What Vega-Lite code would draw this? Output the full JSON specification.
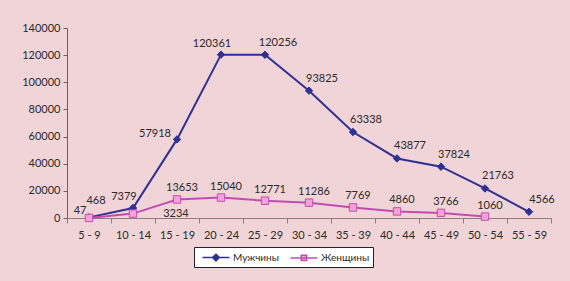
{
  "$schema": "https://vega.github.io/schema/vega-lite/v6.json",
  "width": 484,
  "height": 190,
  "autosize": "none",
  "padding": {"left": 67, "top": 28, "right": 19, "bottom": 63},
  "background": "#f1d4d7",
  "data": {
    "values": [
      {"age": "5 - 9", "sex": "Мужчины", "value": 468},
      {"age": "10 - 14", "sex": "Мужчины", "value": 7379},
      {"age": "15 - 19", "sex": "Мужчины", "value": 57918},
      {"age": "20 - 24", "sex": "Мужчины", "value": 120361},
      {"age": "25 - 29", "sex": "Мужчины", "value": 120256},
      {"age": "30 - 34", "sex": "Мужчины", "value": 93825},
      {"age": "35 - 39", "sex": "Мужчины", "value": 63338},
      {"age": "40 - 44", "sex": "Мужчины", "value": 43877},
      {"age": "45 - 49", "sex": "Мужчины", "value": 37824},
      {"age": "50 - 54", "sex": "Мужчины", "value": 21763},
      {"age": "55 - 59", "sex": "Мужчины", "value": 4566},
      {"age": "5 - 9", "sex": "Женщины", "value": 47},
      {"age": "10 - 14", "sex": "Женщины", "value": 3234},
      {"age": "15 - 19", "sex": "Женщины", "value": 13653},
      {"age": "20 - 24", "sex": "Женщины", "value": 15040},
      {"age": "25 - 29", "sex": "Женщины", "value": 12771},
      {"age": "30 - 34", "sex": "Женщины", "value": 11286},
      {"age": "35 - 39", "sex": "Женщины", "value": 7769},
      {"age": "40 - 44", "sex": "Женщины", "value": 4860},
      {"age": "45 - 49", "sex": "Женщины", "value": 3766},
      {"age": "50 - 54", "sex": "Женщины", "value": 1060}
    ]
  },
  "encoding": {
    "x": {
      "field": "age", "type": "ordinal", "sort": null,
      "scale": {"type": "band", "paddingInner": 0, "paddingOuter": 0},
      "axis": {
        "title": null, "labelAngle": 0, "tickBand": "extent", "tickSize": 5,
        "labelPadding": 6, "labelFontSize": 11, "labelColor": "#2a2a2a",
        "domainColor": "#8a8080", "tickColor": "#8a8080", "grid": false
      }
    },
    "y": {
      "field": "value", "type": "quantitative",
      "scale": {"domain": [0, 140000], "nice": false},
      "axis": {
        "title": null, "values": [0, 20000, 40000, 60000, 80000, 100000, 120000, 140000],
        "format": "d", "tickSize": 4, "labelPadding": 3, "labelFontSize": 11,
        "labelColor": "#2a2a2a", "domainColor": "#6e6060", "tickColor": "#6e6060", "grid": false
      }
    }
  },
  "layer": [
    {
      "mark": {"type": "line", "strokeWidth": 2},
      "encoding": {
        "color": {"field": "sex", "type": "nominal",
          "scale": {"domain": ["Мужчины", "Женщины"], "range": ["#2e3192", "#c24db1"]},
          "legend": {
            "title": null, "orient": "none", "legendX": 127, "legendY": 219, "direction": "horizontal",
            "fillColor": "#ffffff", "strokeColor": "#222222", "padding": 3,
            "labelFontSize": 10, "labelColor": "#2a2a2a", "labelOffset": 21, "columnPadding": 6,
            "symbolSize": 182, "symbolStrokeWidth": 2,
            "encode": {
              "symbols": {
                "update": {
                  "shape": {"signal": "datum.value === 'Мужчины' ? 'M-0.3,0H3.7M1.7,-0.5L2.2,0L1.7,0.5L1.2,0Z' : 'M-0.3,0H3.7M1.3,-0.4H2.1V0.4H1.3Z'"},
                  "fill": {"signal": "datum.value === 'Мужчины' ? '#2e3192' : '#f5a3d6'"},
                  "stroke": {"signal": "datum.value === 'Мужчины' ? '#2e3192' : '#c24db1'"},
                  "strokeWidth": {"value": 1.5}
                }
              }
            }
          }
        }
      }
    },
    {
      "transform": [{"filter": "datum.sex === 'Мужчины'"}],
      "mark": {"type": "point", "shape": "diamond", "filled": true, "size": 55, "fill": "#2e3192", "stroke": "#2e3192", "strokeWidth": 1, "opacity": 1}
    },
    {
      "transform": [{"filter": "datum.sex === 'Женщины'"}],
      "mark": {"type": "point", "shape": "square", "filled": true, "size": 55, "fill": "#f5a3d6", "stroke": "#c24db1", "strokeWidth": 1, "opacity": 1}
    },
    {
      "transform": [{"filter": "datum.sex === 'Мужчины' && indexof(['5 - 9','10 - 14','15 - 19','20 - 24'], datum.age) < 0"}],
      "mark": {"type": "text", "dx": 13, "dy": -12, "fontSize": 11, "color": "#2a2a2a"},
      "encoding": {"text": {"field": "value", "type": "quantitative", "format": "d"}}
    },
    {
      "transform": [{"filter": "datum.sex === 'Мужчины' && (datum.age === '10 - 14' || datum.age === '20 - 24')"}],
      "mark": {"type": "text", "dx": -9, "dy": -11, "fontSize": 11, "color": "#2a2a2a"},
      "encoding": {"text": {"field": "value", "type": "quantitative", "format": "d"}}
    },
    {
      "transform": [{"filter": "datum.sex === 'Мужчины' && datum.age === '15 - 19'"}],
      "mark": {"type": "text", "dx": -22, "dy": -5, "fontSize": 11, "color": "#2a2a2a"},
      "encoding": {"text": {"field": "value", "type": "quantitative", "format": "d"}}
    },
    {
      "transform": [{"filter": "datum.sex === 'Мужчины' && datum.age === '5 - 9'"}],
      "mark": {"type": "text", "dx": 7, "dy": -16, "fontSize": 11, "color": "#2a2a2a"},
      "encoding": {"text": {"field": "value", "type": "quantitative", "format": "d"}}
    },
    {
      "transform": [{"filter": "datum.sex === 'Женщины' && datum.age !== '5 - 9' && datum.age !== '10 - 14'"}],
      "mark": {"type": "text", "dx": 5, "dy": -11, "fontSize": 11, "color": "#2a2a2a"},
      "encoding": {"text": {"field": "value", "type": "quantitative", "format": "d"}}
    },
    {
      "transform": [{"filter": "datum.sex === 'Женщины' && datum.age === '5 - 9'"}],
      "mark": {"type": "text", "dx": -9, "dy": -7, "fontSize": 11, "color": "#2a2a2a"},
      "encoding": {"text": {"field": "value", "type": "quantitative", "format": "d"}}
    },
    {
      "transform": [{"filter": "datum.sex === 'Женщины' && datum.age === '10 - 14'"}],
      "mark": {"type": "text", "dx": 43, "dy": 0, "fontSize": 11, "color": "#2a2a2a"},
      "encoding": {"text": {"field": "value", "type": "quantitative", "format": "d"}}
    }
  ],
  "config": {
    "view": {"stroke": null},
    "font": "Lato"
  }
}
